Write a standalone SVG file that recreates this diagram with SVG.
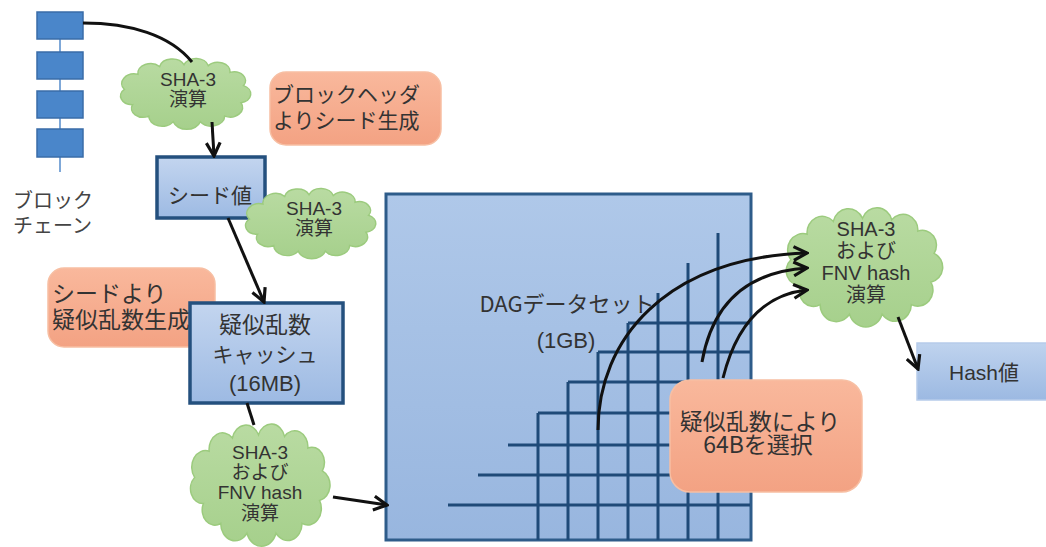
<svg xmlns="http://www.w3.org/2000/svg" xmlns:xlink="http://www.w3.org/1999/xlink" width="1046" height="547" viewBox="0 0 1046 547">
<style>
.jp{font-family:"Noto Sans CJK JP","Liberation Sans",sans-serif;fill:#333;}
.lat{font-family:"Liberation Sans","Noto Sans CJK JP",sans-serif;fill:#333;}
.blk{fill:#4A86CA;stroke:#3A6CA8;stroke-width:1.5;}
.bbox{fill:url(#gBlue);stroke:#24507E;stroke-width:3.5;}
.orange{fill:url(#gOrange);stroke:#F7BFA3;stroke-width:1.5;}
.cloud{fill:url(#gGreen);stroke:#9CCB7E;stroke-width:1.5;}
.grid{stroke:#1F4A78;stroke-width:3;fill:none;}
.conn{stroke:#111;stroke-width:3;fill:none;}
.arr{marker-end:url(#ah);}
</style>
<defs>
<linearGradient id="gBlue" x1="0" y1="0" x2="0" y2="1"><stop offset="0" stop-color="#C3D5EF"/><stop offset="1" stop-color="#9DBAE3"/></linearGradient>
<linearGradient id="gDag" x1="0" y1="0" x2="0" y2="1"><stop offset="0" stop-color="#AFC8E9"/><stop offset="1" stop-color="#98B6DF"/></linearGradient>
<linearGradient id="gHash" x1="0" y1="0" x2="0" y2="1"><stop offset="0" stop-color="#BFD3EE"/><stop offset="1" stop-color="#9CB9E2"/></linearGradient>
<linearGradient id="gOrange" x1="0" y1="0" x2="0" y2="1"><stop offset="0" stop-color="#F9B89C"/><stop offset="1" stop-color="#F3A283"/></linearGradient>
<linearGradient id="gGreen" x1="0" y1="0" x2="0" y2="1"><stop offset="0" stop-color="#B9DBA2"/><stop offset="1" stop-color="#A6D08C"/></linearGradient>
<path id="cloudShape" vector-effect="non-scaling-stroke" d="M16.6,45.8 A7.5,7.5 0 0 1 11.3,32.7 A8.3,8.3 0 0 1 20.1,19.6 A8.2,8.2 0 0 1 34.2,13 A8.4,8.4 0 0 1 50,11.4 A8.3,8.3 0 0 1 65.8,12.2 A8,8 0 0 1 79.9,18 A7.6,7.6 0 0 1 88.7,29.4 A7.8,7.8 0 0 1 87,44.2 A8.2,8.2 0 0 1 76.4,55.7 A8.7,8.7 0 0 1 60.6,60.6 A9.2,9.2 0 0 1 43,60.6 A8.7,8.7 0 0 1 27.1,55.7 A7.6,7.6 0 0 1 16.6,45.8 Z"/>
<marker id="ah" viewBox="0 0 16 16" refX="14" refY="8" markerWidth="17" markerHeight="17" markerUnits="userSpaceOnUse" orient="auto">
<path d="M1.5,1.5 L14,8 L1.5,14.5" fill="none" stroke="#111" stroke-width="3" stroke-linejoin="miter"/>
</marker>
</defs>

<g id="blockchain">
<line x1="60" y1="39" x2="60" y2="172" stroke="#7FA8D8" stroke-width="2"/>
<rect class="blk" x="37" y="12" width="46" height="27"/>
<rect class="blk" x="37" y="52" width="46" height="27"/>
<rect class="blk" x="37" y="91" width="46" height="27"/>
<rect class="blk" x="37" y="129" width="46" height="28"/>
<text class="jp" x="13" y="208" font-size="20" style="fill:#444">ブロック</text>
<text class="jp" x="13" y="233" font-size="20" style="fill:#444">チェーン</text>
</g>

<g id="cloud1">
<use xlink:href="#cloudShape" class="cloud" transform="translate(107,51.5) scale(1.54,1.16)"/>
<text class="lat" x="188" y="86" font-size="19" text-anchor="middle">SHA-3</text>
<text class="jp" x="188" y="106" font-size="19" text-anchor="middle">演算</text>
</g>

<g id="note1">
<rect class="orange" x="270" y="72" width="171" height="73" rx="16"/>
<text class="jp" x="273" y="102" font-size="21">ブロックヘッダ</text>
<text class="jp" x="273" y="128" font-size="21">よりシード生成</text>
</g>

<g id="seed">
<rect class="bbox" x="157" y="157" width="108" height="61"/>
<text class="jp" x="210" y="203" font-size="21" text-anchor="middle">シード値</text>
</g>

<g id="cloud2">
<use xlink:href="#cloudShape" class="cloud" transform="translate(232,181.5) scale(1.54,1.15)"/>
<text class="lat" x="314" y="215" font-size="19" text-anchor="middle">SHA-3</text>
<text class="jp" x="314" y="235" font-size="19" text-anchor="middle">演算</text>
</g>

<g id="note2">
<rect class="orange" x="48" y="268" width="167" height="79" rx="16"/>
<text class="jp" x="52" y="302" font-size="23">シードより</text>
<text class="jp" x="52" y="328" font-size="23">疑似乱数生成</text>
</g>

<g id="cache">
<rect class="bbox" x="190" y="303" width="153" height="100"/>
<text class="jp" x="265" y="333" font-size="23" text-anchor="middle">疑似乱数</text>
<text class="jp" x="265" y="362" font-size="21" text-anchor="middle">キャッシュ</text>
<text class="lat" x="265" y="391" font-size="22" text-anchor="middle">(16MB)</text>
</g>

<g id="cloud3">
<use xlink:href="#cloudShape" class="cloud" transform="translate(176,412) scale(1.65,2.0)"/>
<text class="lat" x="260" y="459" font-size="19" text-anchor="middle">SHA-3</text>
<text class="jp" x="260" y="479" font-size="19" text-anchor="middle">および</text>
<text class="lat" x="260" y="499" font-size="19" text-anchor="middle">FNV hash</text>
<text class="jp" x="260" y="520" font-size="19" text-anchor="middle">演算</text>
</g>

<g id="dag">
<rect x="386" y="194" width="365" height="346" fill="url(#gDag)" stroke="#2E5C8A" stroke-width="3"/>
<path class="grid" d="M538,413V540 M568,382V540 M598,352V540 M628,323V540 M658,293V540 M688,263V540 M718,233V540 M628,323H750 M598,352H750 M568,382H750 M538,413H750 M508,445H750 M478,475H750 M448,505H750"/>
<text class="jp" x="567" y="312" font-size="22" text-anchor="middle">DAGデータセット</text>
<text class="lat" x="566" y="348" font-size="22" text-anchor="middle">(1GB)</text>
</g>

<g id="note3">
<rect class="orange" x="670" y="380" width="192" height="112" rx="20"/>
<text class="jp" x="760" y="430" font-size="23" text-anchor="middle">疑似乱数により</text>
<text class="jp" x="758" y="453" font-size="23" text-anchor="middle">64Bを選択</text>
</g>

<g id="cloud4">
<use xlink:href="#cloudShape" class="cloud" transform="translate(770,196) scale(1.85,1.95)"/>
<text class="lat" x="866" y="236" font-size="20" text-anchor="middle">SHA-3</text>
<text class="jp" x="866" y="258" font-size="20" text-anchor="middle">および</text>
<text class="lat" x="866" y="280" font-size="20" text-anchor="middle">FNV hash</text>
<text class="jp" x="866" y="302" font-size="20" text-anchor="middle">演算</text>
</g>

<g id="hash">
<rect x="917" y="343" width="135" height="57" fill="url(#gHash)" stroke="#B7CCEA" stroke-width="1.5"/>
<text class="lat" x="984" y="380" font-size="21" text-anchor="middle">Hash値</text>
</g>

<g id="connectors">
<path class="conn" d="M83,23 C130,23 170,35 192,62"/>
<path class="conn arr" d="M212,122 L214,156"/>
<path class="conn arr" d="M228,218 L264,302"/>
<path class="conn" d="M247,403 L254,425"/>
<path class="conn arr" d="M333,497 L387,505"/>
<path class="conn arr" d="M598,430 C598,340 665,258 807,253"/>
<path class="conn arr" d="M702,362 C712,305 745,272 807,268"/>
<path class="conn arr" d="M723,378 C735,330 760,295 807,290"/>
<path class="conn arr" d="M898,317 L918,369"/>
</g>
</svg>
